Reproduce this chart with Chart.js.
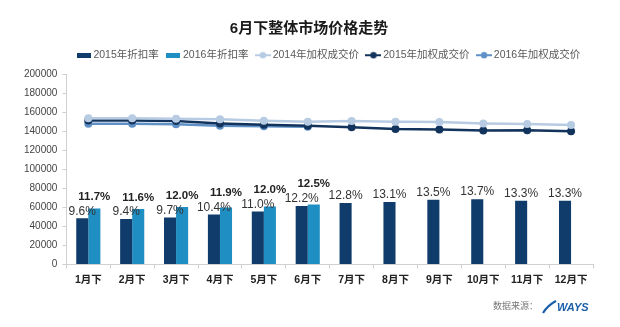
<!DOCTYPE html>
<html>
<head>
<meta charset="utf-8">
<script src="https://cdn.jsdelivr.net/npm/chart.js"></script>
<style>
body{margin:0;background:#fff}
#wrap{position:relative;width:620px;height:327px}
</style>
</head>
<body>
<div id="wrap"><canvas id="myChart" width="620" height="327"></canvas></div>
<script>
var months = ["1月下","2月下","3月下","4月下","5月下","6月下","7月下","8月下","9月下","10月下","11月下","12月下"]
var rate2015 = [48500,47700,49400,52500,55600,61500,64600,65600,68000,68700,67000,67000]
var rate2016 = [59000,58300,60400,59800,61100,63200,null,null,null,null,null,null]
var rate2015Text = ["9.6%","9.4%","9.7%","10.4%","11.0%","12.2%","12.8%","13.1%","13.5%","13.7%","13.3%","13.3%"]
var rate2016Text = ["11.7%","11.6%","12.0%","11.9%","12.0%","12.5%"]
var price2014 = [154000,154000,153500,153000,151300,150300,151000,150300,150000,148500,147900,146800]
var price2015 = [151500,151500,151000,148500,147000,146000,144500,142700,142000,141000,141300,140200]
var price2016 = [148000,148000,147500,146000,145500,145000,null,null,null,null,null,null]
var yTicks = [0,20000,40000,60000,80000,100000,120000,140000,160000,180000,200000]

var fontFam = "'Liberation Sans', 'Noto Sans CJK SC', sans-serif"
var dark = "#0f3c6b"
var light = "#1f8ec2"
var c2014 = "#b7cbe3"
var c2015 = "#12345c"
var c2016 = "#5f90c6"

function barIcon(color){
	var c = document.createElement("canvas")
	c.width = 14; c.height = 5
	var x = c.getContext("2d")
	x.fillStyle = color
	x.fillRect(0,0,14,5)
	return c
}
function lineIcon(color){
	var c = document.createElement("canvas")
	c.width = 16; c.height = 8
	var x = c.getContext("2d")
	x.strokeStyle = color
	x.lineWidth = 2
	x.beginPath(); x.moveTo(0,4); x.lineTo(16,4); x.stroke()
	x.fillStyle = color
	x.beginPath(); x.arc(8,4,3.2,0,Math.PI*2); x.fill()
	return c
}
var icons = [barIcon(dark),barIcon(light),lineIcon(c2014),lineIcon(c2015),lineIcon(c2016)]

var extras = {
	id: "extras",
	afterInit: function(chart){
		// a bit more room under the legend
		var lg = chart.legend
		var fit = lg.fit
		lg.fit = function(){ fit.call(this); this.height += 4 }
	},
	afterDatasetsDraw: function(chart){
		var ctx = chart.ctx
		var m0 = chart.getDatasetMeta(0)
		var m1 = chart.getDatasetMeta(1)
		ctx.save()
		ctx.textAlign = "center"
		ctx.textBaseline = "bottom"
		ctx.fillStyle = "#333"
		ctx.font = "12px " + fontFam
		for(var i=0;i<months.length;i++){
			var b = m0.data[i]
			ctx.fillText(rate2015Text[i], b.x, b.y - 1)
		}
		ctx.font = "bold 11.5px " + fontFam
		ctx.fillStyle = "#222"
		for(var j=0;j<rate2016Text.length;j++){
			var b1 = m1.data[j]
			var b0 = m0.data[j]
			var y = Math.min(b1.y - 5, b0.y - 16)
			ctx.fillText(rate2016Text[j], b1.x, y)
		}
		ctx.restore()
	},
	afterDraw: function(chart){
		var ctx = chart.ctx
		ctx.save()
		ctx.fillStyle = "#1a1a1a"
		ctx.font = "bold 15px " + fontFam
		ctx.textAlign = "center"
		ctx.textBaseline = "middle"
		ctx.fillText("6月下整体市场价格走势", 309, 29)
		ctx.font = "9px " + fontFam
		ctx.fillStyle = "#777"
		ctx.textAlign = "left"
		ctx.fillText("数据来源：", 493, 307)
		ctx.strokeStyle = "#1b5fa8"
		ctx.lineWidth = 2.2
		ctx.beginPath(); ctx.moveTo(543,313); ctx.quadraticCurveTo(548,305,556,301); ctx.stroke()
		ctx.font = "italic bold 11px " + fontFam
		ctx.fillStyle = "#1b5fa8"
		ctx.fillText("WAYS", 557, 308)
		ctx.restore()
	}
}

var chart = new Chart(document.getElementById("myChart"),{
	type: "bar",
	data: {
		labels: months,
		datasets: [
			{label:"2015年折扣率",data:rate2015,backgroundColor:dark,categoryPercentage:0.55,barPercentage:1.0},
			{label:"2016年折扣率",data:rate2016,backgroundColor:light,categoryPercentage:0.55,barPercentage:1.0},
			{type:"line",label:"2014年加权成交价",data:price2014,borderColor:c2014,backgroundColor:c2014,borderWidth:2.5,pointRadius:4,pointBackgroundColor:c2014,pointBorderWidth:0},
			{type:"line",label:"2015年加权成交价",data:price2015,borderColor:c2015,backgroundColor:c2015,borderWidth:2.5,pointRadius:4,pointBackgroundColor:c2015,pointBorderWidth:0},
			{type:"line",label:"2016年加权成交价",data:price2016,borderColor:c2016,backgroundColor:c2016,borderWidth:2.5,pointRadius:4,pointBackgroundColor:c2016,pointBorderWidth:0}
		]
	},
	options: {
		responsive: false,
		animation: false,
		layout: {padding:{top:40,left:19,right:27,bottom:36}},
		plugins: {
			tooltip: {enabled:false},
			legend: {
				fullSize: false,
				labels: {
					usePointStyle: true,
					pointStyleWidth: 9,
					boxHeight: 10,
					padding: 10,
					color: "#595959",
					font: {size:10.5, family:fontFam},
					generateLabels: function(ch){
						return ch.data.datasets.map(function(ds,i){
							return {text:ds.label,pointStyle:icons[i],datasetIndex:i,fillStyle:ds.backgroundColor,strokeStyle:ds.backgroundColor,lineWidth:0,fontColor:"#595959"}
						})
					}
				}
			}
		},
		scales: {
			x: {
				grid: {display:true,drawOnChartArea:false,drawTicks:true,tickLength:4,color:"#d0d0d0"},
				border: {color:"#d0d0d0"},
				ticks: {color:"#222",font:{size:10.5,weight:"bold",family:fontFam},padding:5,maxRotation:0,autoSkip:false}
			},
			y: {
				min: 0,
				max: 200000,
				afterBuildTicks: function(s){ s.ticks = yTicks.map(function(v){return {value:v}}) },
				grid: {display:true,drawOnChartArea:false,drawTicks:true,tickLength:4,color:"#d0d0d0"},
				border: {color:"#d0d0d0"},
				ticks: {color:"#444",font:{size:10,family:fontFam},padding:5,callback:function(v){return String(v)}}
			}
		}
	},
	plugins: [extras]
})
</script>
</body>
</html>
